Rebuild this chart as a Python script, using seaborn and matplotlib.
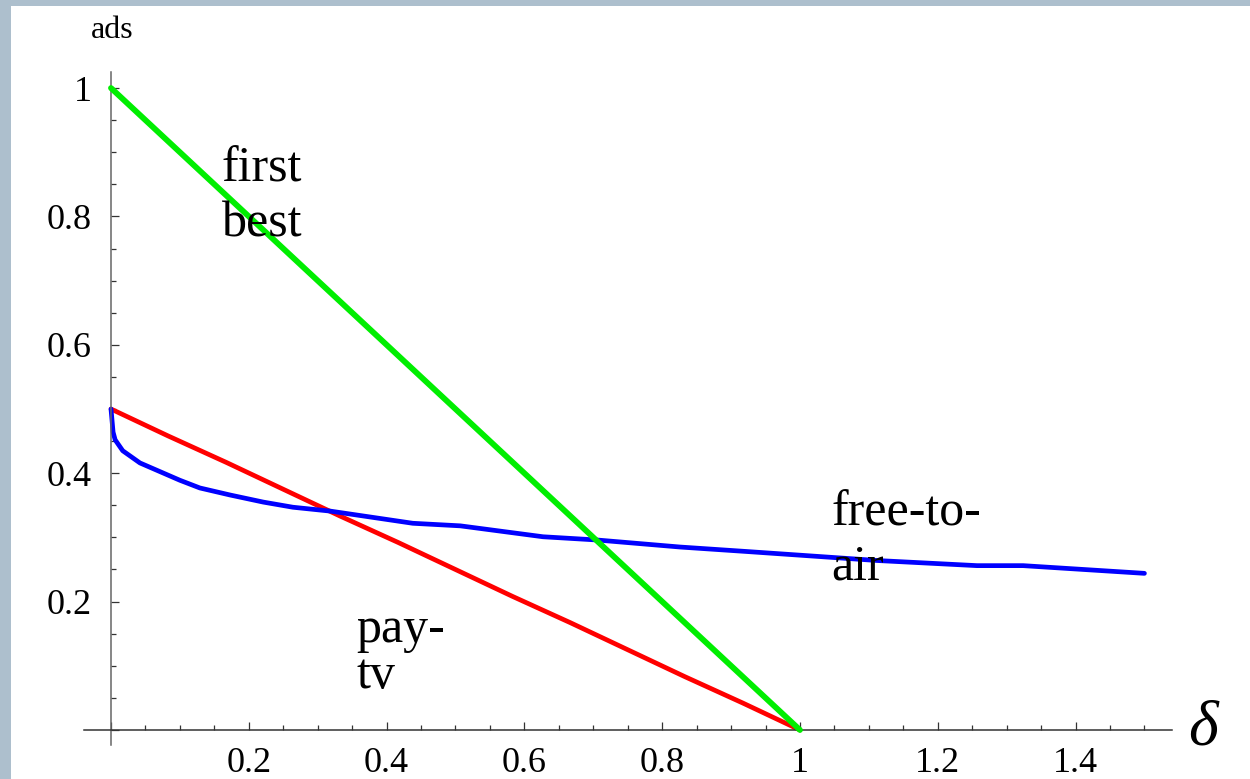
import numpy as np
import pandas as pd
import seaborn as sns
import matplotlib.pyplot as plt
from matplotlib.ticker import MultipleLocator, FuncFormatter
from matplotlib.patches import Rectangle

# データ
delta_lin = [0, 0.083, 0.167, 0.25, 0.333, 0.417, 0.5, 0.583, 0.667, 0.75, 0.833, 0.917, 1.0]
first_best = [1.0, 0.917, 0.833, 0.75, 0.667, 0.583, 0.5, 0.417, 0.333, 0.25, 0.167, 0.083, 0.0]
pay_tv = [0.5, 0.458, 0.417, 0.375, 0.333, 0.292, 0.25, 0.208, 0.167, 0.125, 0.083, 0.042, 0.0]

delta_fta = [0, 0.003, 0.006, 0.017, 0.042, 0.1, 0.129, 0.173, 0.221, 0.264, 0.318,
             0.438, 0.507, 0.627, 0.705, 0.826, 0.923, 1.112, 1.257, 1.324, 1.5]
free_to_air = [0.5, 0.464, 0.452, 0.435, 0.416, 0.389, 0.377, 0.366, 0.355, 0.347, 0.341,
               0.322, 0.318, 0.301, 0.296, 0.285, 0.278, 0.264, 0.256, 0.256, 0.244]

# 描画設定
sns.set_style("white")
plt.rcParams['font.family'] = ['Liberation Serif', 'DejaVu Serif']
plt.rcParams['text.color'] = 'black'

fig = plt.figure(figsize=(12.5, 7.79), dpi=100, facecolor='#adbfcd')
fig.patches.append(Rectangle((11 / 1250, 0), 1, (779 - 6) / 779, transform=fig.transFigure,
                             facecolor='white', edgecolor='none', zorder=-10))
ax = fig.add_axes([84 / 1250, (779 - 745) / 779, (1172 - 84) / 1250, (745 - 72) / 779])
ax.set_facecolor('none')
ax.set_zorder(5)

sns.lineplot(x=delta_lin, y=first_best, color='#00ee00', lw=4.2, sort=False, estimator=None, ax=ax, zorder=3)
sns.lineplot(x=delta_lin, y=pay_tv, color='#ff0000', lw=3.4, sort=False, estimator=None, ax=ax, zorder=2)
sns.lineplot(x=delta_fta, y=free_to_air, color='#0000ff', lw=3.4, sort=False, estimator=None, ax=ax, zorder=2)

ax.set_xlim(-0.0392, 1.540)
ax.set_ylim(-0.0234, 1.025)

# 軸（原点で交差）
for s in ['top', 'right']:
    ax.spines[s].set_visible(False)
ax.spines['left'].set_position(('data', 0))
ax.spines['bottom'].set_position(('data', 0))
ax.spines['left'].set_color('#666666')
ax.spines['bottom'].set_color('#333333')
ax.spines['left'].set_linewidth(1.1)
ax.spines['bottom'].set_linewidth(1.1)

ax.xaxis.set_major_locator(MultipleLocator(0.2))
ax.xaxis.set_minor_locator(MultipleLocator(0.05))
ax.yaxis.set_major_locator(MultipleLocator(0.2))
ax.yaxis.set_minor_locator(MultipleLocator(0.05))
fmt = FuncFormatter(lambda v, p: '' if abs(v) < 1e-9 else f'{v:g}')
ax.xaxis.set_major_formatter(fmt)
ax.yaxis.set_major_formatter(fmt)

ax.tick_params(which='both', direction='in', color='#333333', width=0.9,
               bottom=True, left=True, labelcolor='black')
ax.tick_params(which='major', length=6)
ax.tick_params(which='minor', length=3.5)
ax.tick_params(axis='x', which='major', pad=12, labelsize=26)
ax.tick_params(axis='y', which='major', pad=14, labelsize=26)

# ラベル
ax.text(-0.029, 1.078, 'ads', fontsize=23, va='baseline', ha='left', clip_on=False)
ax.text(1.563, -0.023, 'δ', fontsize=46, style='italic', va='baseline', ha='left', clip_on=False)

lab = dict(fontsize=36, va='baseline', ha='left')
ax.text(0.161, 0.854, 'first', **lab)
ax.text(0.161, 0.768, 'best', **lab)
ax.text(1.046, 0.319, 'free-to-', **lab)
ax.text(1.046, 0.234, 'air', **lab)
ax.text(0.356, 0.137, 'pay-', **lab)
ax.text(0.356, 0.065, 'tv', **lab)

plt.savefig('out.png', dpi=100, facecolor=fig.get_facecolor())
